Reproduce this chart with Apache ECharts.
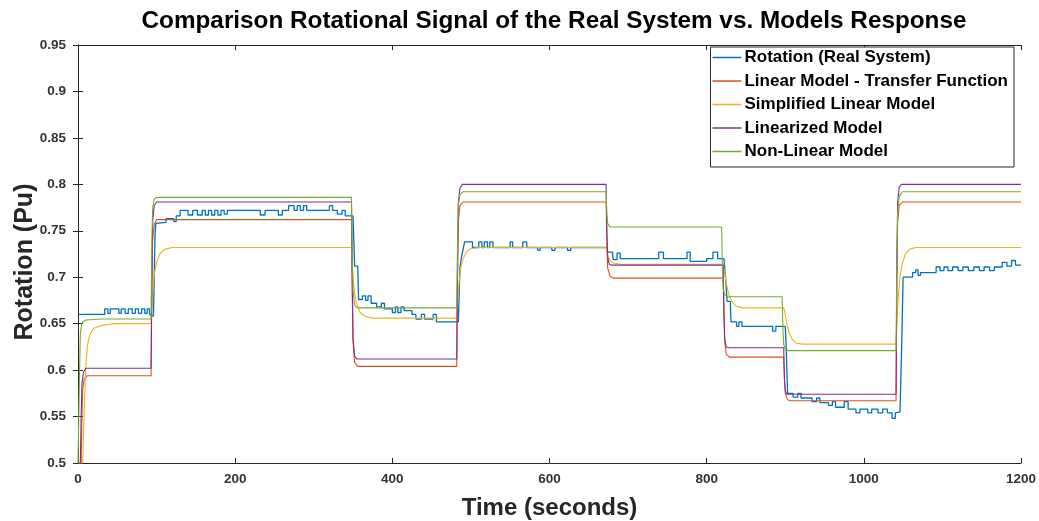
<!DOCTYPE html>
<html>
<head>
<meta charset="utf-8">
<script src="https://cdn.jsdelivr.net/npm/echarts@6/dist/echarts.min.js"></script>
<style>html,body{margin:0;padding:0;background:#fff}#c{width:1039px;height:521px}</style>
</head>
<body>
<div id="c"></div>
<script>
const seriesNames = ['Rotation (Real System)', 'Linear Model - Transfer Function', 'Simplified Linear Model', 'Linearized Model', 'Non-Linear Model'];
const xTicks = [0, 200, 400, 600, 800, 1000, 1200];
const yTicks = [0.5, 0.55, 0.6, 0.65, 0.7, 0.75, 0.8, 0.85, 0.9, 0.95];

const realSystem = [[0,0.660],[34,0.660],[34,0.666],[38,0.666],[38,0.661],[41,0.661],[41,0.666],[52,0.666],[52,0.661],[55,0.661],[55,0.666],[60,0.666],[60,0.661],[64,0.661],[64,0.666],[69,0.666],[69,0.661],[73,0.661],[73,0.666],[77,0.666],[77,0.661],[81,0.661],[81,0.666],[85,0.666],[85,0.661],[88,0.661],[88,0.666],[91,0.666],[91,0.660],[96,0.658],
[97,0.70],[98,0.745],[99,0.758],[112,0.759],[112,0.763],[122,0.763],[122,0.760],[125,0.760],[125,0.766],[130,0.766],[130,0.772],[140,0.772],[140,0.767],[146,0.767],[146,0.772],[152,0.772],[152,0.767],[158,0.767],[158,0.772],[162,0.772],[162,0.767],[166,0.767],[166,0.772],[170,0.772],[170,0.767],[174,0.767],[174,0.772],[178,0.772],[178,0.767],[182,0.767],[182,0.772],[186,0.772],[186,0.768],[190,0.768],[190,0.772],[232,0.772],[232,0.767],[238,0.767],[238,0.772],[255,0.772],[255,0.767],[260,0.767],[260,0.772],[268,0.772],[268,0.777],[275,0.777],[275,0.772],[279,0.772],[279,0.777],[283,0.777],[283,0.772],[287,0.772],[287,0.777],[291,0.777],[291,0.772],[320,0.772],[320,0.777],[324,0.777],[324,0.772],[330,0.772],[330,0.768],[336,0.768],[336,0.772],[340,0.772],[340,0.766],[350,0.766],
[351,0.74],[352,0.712],[356,0.712],[357,0.676],[362,0.676],[362,0.680],[366,0.680],[366,0.675],[369,0.675],[369,0.680],[373,0.680],[373,0.672],[380,0.672],[380,0.668],[386,0.668],[386,0.672],[390,0.672],[390,0.666],[400,0.666],[400,0.662],[404,0.662],[404,0.668],[407,0.668],[407,0.662],[411,0.662],[411,0.668],[415,0.668],[415,0.664],[425,0.664],[425,0.660],[430,0.660],[430,0.655],[437,0.655],[437,0.660],[441,0.660],[441,0.655],[452,0.655],[452,0.660],[456,0.660],[456,0.652],[484,0.652],
[485,0.68],[486,0.71],[488,0.722],[490,0.730],[492,0.738],[502,0.738],[502,0.732],[510,0.732],[510,0.738],[514,0.738],[514,0.732],[517,0.732],[517,0.738],[521,0.738],[521,0.732],[524,0.732],[524,0.738],[528,0.738],[528,0.732],[550,0.732],[550,0.738],[553,0.738],[553,0.732],[566,0.732],[566,0.738],[571,0.738],[571,0.732],[585,0.732],[585,0.729],[588,0.729],[588,0.732],[603,0.732],[603,0.729],[607,0.729],[607,0.732],[623,0.732],[623,0.729],[627,0.729],[627,0.732],[673,0.732],
[674,0.727],[680,0.727],[681,0.719],[686,0.719],[686,0.726],[690,0.726],[690,0.720],[739,0.720],[739,0.727],[745,0.727],[745,0.720],[775,0.720],[775,0.727],[779,0.727],[779,0.717],[800,0.717],[800,0.720],[808,0.720],[808,0.727],[814,0.727],[814,0.720],[822,0.720],
[824,0.700],[826,0.674],[830,0.674],[831,0.652],[838,0.652],[838,0.647],[841,0.647],[841,0.652],[845,0.652],[845,0.647],[884,0.647],[884,0.642],[888,0.642],[888,0.647],[900,0.647],
[901,0.630],[903,0.575],[910,0.575],[910,0.571],[916,0.571],[916,0.575],[920,0.575],[920,0.570],[934,0.570],[934,0.566],[940,0.566],[940,0.570],[944,0.570],[944,0.565],[955,0.565],[955,0.562],[960,0.562],[960,0.566],[964,0.566],[964,0.560],[975,0.560],[975,0.566],[980,0.566],[980,0.558],[990,0.558],[990,0.554],[995,0.554],[995,0.558],[1005,0.558],[1005,0.554],[1010,0.554],[1010,0.558],[1018,0.558],[1018,0.554],[1024,0.554],[1024,0.558],[1030,0.558],[1030,0.554],[1036,0.554],[1036,0.548],[1040,0.548],[1040,0.554],[1046,0.555],
[1048,0.620],[1050,0.700],[1062,0.700],[1062,0.705],[1066,0.705],[1066,0.708],[1069,0.708],[1069,0.702],[1072,0.702],[1072,0.705],[1092,0.705],[1092,0.711],[1097,0.711],[1097,0.707],[1102,0.707],[1102,0.711],[1107,0.711],[1107,0.707],[1113,0.707],[1113,0.711],[1120,0.711],[1120,0.707],[1126,0.707],[1126,0.711],[1133,0.711],[1133,0.707],[1140,0.707],[1140,0.711],[1147,0.711],[1147,0.707],[1153,0.707],[1153,0.711],[1160,0.711],[1160,0.707],[1166,0.707],[1166,0.711],[1176,0.711],[1176,0.716],[1182,0.716],[1182,0.712],[1188,0.712],[1188,0.718],[1193,0.718],[1193,0.713],[1200,0.713]];

const linearTF = [[0,0.5],[4,0.5],[5,0.55],[6,0.58],[8,0.591],[12,0.594],
[93,0.594],[94,0.69],[95,0.74],[97,0.757],[100,0.762],
[348,0.762],[349,0.68],[350,0.63],[352,0.608],[356,0.604],
[482,0.604],[483,0.70],[484,0.76],[486,0.777],[490,0.781],
[672,0.781],[673,0.74],[674,0.71],[677,0.701],[681,0.699],
[821,0.699],[822,0.66],[823,0.63],[825,0.617],[829,0.614],
[898,0.614],[899,0.59],[900,0.575],[903,0.568],[907,0.567],
[1041,0.567],[1042,0.70],[1043,0.76],[1045,0.777],[1049,0.781],[1200,0.781]];

const simplifiedLinear = [[0,0.5],[6,0.5],[8,0.56],[10,0.605],[12,0.627],[15,0.638],[20,0.645],[30,0.648],[45,0.650],
[93,0.650],[94,0.665],[95,0.685],[97,0.703],[100,0.716],[104,0.725],[110,0.730],[120,0.732],
[348,0.732],[349,0.718],[350,0.700],[352,0.683],[355,0.670],[359,0.662],[365,0.658],[375,0.656],
[482,0.656],[483,0.672],[485,0.695],[487,0.710],[490,0.720],[494,0.727],[500,0.731],[510,0.732],
[672,0.732],[673,0.727],[675,0.721],[678,0.717],[683,0.715],[690,0.714],
[821,0.714],[823,0.705],[825,0.693],[828,0.682],[832,0.674],[837,0.669],[845,0.667],
[898,0.667],[900,0.660],[902,0.650],[905,0.640],[909,0.633],[914,0.629],[922,0.628],
[1041,0.628],[1042,0.650],[1044,0.680],[1046,0.700],[1049,0.715],[1053,0.725],[1058,0.730],[1066,0.732],[1200,0.732]];

const linearized = [[0,0.5],[3,0.5],[4,0.55],[5,0.585],[7,0.598],[10,0.602],
[93,0.602],[94,0.70],[95,0.76],[97,0.777],[100,0.781],
[348,0.781],[349,0.70],[350,0.635],[352,0.615],[355,0.612],
[482,0.612],[483,0.72],[484,0.78],[486,0.796],[489,0.800],
[672,0.800],[673,0.75],[674,0.722],[676,0.714],[679,0.713],
[821,0.713],[822,0.66],[823,0.633],[825,0.625],[828,0.624],
[898,0.624],[899,0.59],[900,0.578],[902,0.574],
[1041,0.574],[1042,0.70],[1043,0.78],[1045,0.797],[1048,0.800],[1200,0.800]];

const nonLinear = [[0,0.5],[1,0.5],[2,0.60],[3,0.640],[5,0.651],[10,0.654],[30,0.655],
[93,0.655],[94,0.74],[95,0.775],[97,0.784],[100,0.786],
[348,0.786],[349,0.72],[350,0.685],[352,0.670],[356,0.667],
[482,0.667],[483,0.74],[484,0.778],[486,0.789],[490,0.792],
[672,0.792],[673,0.768],[674,0.758],[677,0.754],
[819,0.754],[820,0.71],[821,0.688],[823,0.681],[827,0.679],
[896,0.679],[897,0.645],[898,0.628],[900,0.622],[904,0.621],
[1041,0.621],[1042,0.72],[1043,0.77],[1045,0.787],[1049,0.792],[1200,0.792]];

const colors = ['#0072BD', '#D95319', '#EDB120', '#7E2F8E', '#77AC30'];
const allData = [realSystem, linearTF, simplifiedLinear, linearized, nonLinear];

const chart = echarts.init(document.getElementById('c'), null, {renderer: 'canvas'});
const font = 'Liberation Sans, Arial, sans-serif';
const gridBox = {left: 78, right: 18, top: 45, bottom: 58};
const tickStyle = {show: true, inside: true, length: 5, lineStyle: {color: '#262626', width: 1}};

const option = {
  animation: false,
  backgroundColor: '#fff',
  color: colors,
  title: {
    text: 'Comparison Rotational Signal of the Real System vs. Models Response',
    left: 549, top: 4, textAlign: 'center',
    textStyle: {fontFamily: font, fontSize: 24.3, fontWeight: 'bold', color: '#000'}
  },
  grid: Object.assign({show: false, containLabel: false, outerBoundsMode: 'none'}, gridBox),
  legend: {
    orient: 'vertical', right: 25, top: 47,
    data: seriesNames,
    icon: 'rect', itemWidth: 29, itemHeight: 1.5, itemGap: 6.5,
    padding: [2, 6, 7, 2],
    borderColor: '#262626', borderWidth: 1, backgroundColor: '#fff',
    textStyle: {fontFamily: font, fontSize: 17, fontWeight: 'bold', color: '#000', padding: [0,0,0,-2]}
  },
  xAxis: [{
    type: 'value', min: 0, max: 1200, interval: 200,
    name: 'Time (seconds)', nameLocation: 'middle', nameGap: 33, nameMoveOverlap: false,
    nameTextStyle: {fontFamily: font, fontSize: 24, fontWeight: 'bold', color: '#262626'},
    axisLine: {show: true, lineStyle: {color: '#262626', width: 1}},
    axisTick: tickStyle,
    axisLabel: {fontFamily: font, fontSize: 13.5, fontWeight: 'bold', color: '#333', margin: 9,
      formatter: v => xTicks.includes(v) ? String(v) : ''},
    splitLine: {show: false}
  }, {
    type: 'value', min: 0, max: 1200, interval: 200, position: 'top',
    axisLine: {show: true, lineStyle: {color: '#262626', width: 1}},
    axisTick: tickStyle, axisLabel: {show: false}, splitLine: {show: false}
  }],
  yAxis: [{
    type: 'value', min: 0.5, max: 0.95, interval: 0.05,
    name: 'Rotation (Pu)', nameLocation: 'middle', nameGap: 40, nameMoveOverlap: false,
    nameTextStyle: {fontFamily: font, fontSize: 25, fontWeight: 'bold', color: '#262626', padding: [0, 16, 0, 0]},
    axisLine: {show: true, lineStyle: {color: '#262626', width: 1}},
    axisTick: tickStyle,
    axisLabel: {fontFamily: font, fontSize: 13.5, fontWeight: 'bold', color: '#333', margin: 12,
      formatter: v => { const t = yTicks.find(y => Math.abs(y - v) < 1e-9); return t === undefined ? '' : String(t); }},
    splitLine: {show: false}
  }, {
    type: 'value', min: 0.5, max: 0.95, interval: 0.05, position: 'right',
    axisLine: {show: true, lineStyle: {color: '#262626', width: 1}},
    axisTick: tickStyle, axisLabel: {show: false}, splitLine: {show: false}
  }],
  series: seriesNames.map((n, i) => ({
    name: n, type: 'line', data: allData[i], showSymbol: false, symbol: 'none',
    xAxisIndex: 0, yAxisIndex: 0,
    lineStyle: {width: i === 0 ? 1.3 : 1.1, color: colors[i]},
    itemStyle: {color: colors[i]},
    z: 2 + i
  }))
};
chart.setOption(option);
</script>
</body>
</html>
